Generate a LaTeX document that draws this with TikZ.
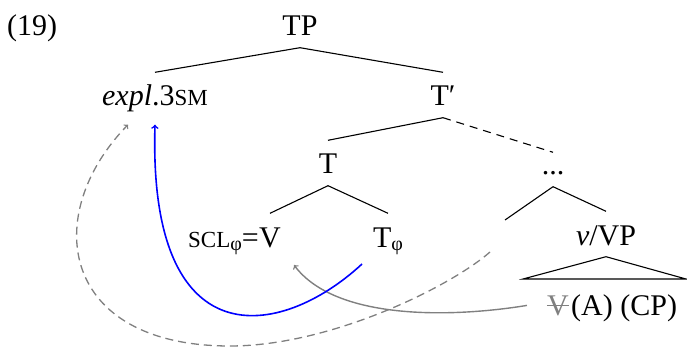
\documentclass[tikz,border=0pt]{standalone}
\usepackage{fontspec}
\setmainfont{Liberation Serif}
\usepackage{xcolor}
\usepackage{tikz}
\usetikzlibrary{arrows, positioning, calc}
\definecolor{moveblue}{RGB}{0, 0, 255}
\definecolor{movegray}{RGB}{128, 128, 128}
\newcommand{\smc}[1]{{\fontsize{23}{25}\selectfont #1}}
\newcommand{\phisub}{\raisebox{-4pt}{\fontsize{20}{22}\selectfont φ}}
\tikzset{
    cat/.style={anchor=base, font=\fontsize{30}{34}\selectfont, inner xsep=0pt, inner ysep=11.5pt, text height=22pt, text depth=0pt},
    branch/.style={line width=1.1pt},
    trace/.style={anchor=base, font=\fontsize{30}{34}\selectfont, inner sep=0pt, text=movegray},
    headmove/.style={->, >=to, line width=1.6pt, draw=moveblue},
    vmove/.style={->, >=to, line width=1.4pt, draw=movegray},
    expletmove/.style={->, >=to, line width=1.3pt, draw=movegray, dash pattern=on 8pt off 5pt}
}

\begin{document}
\begin{tikzpicture}[x=1pt, y=-1pt]
    \useasboundingbox (0,0) rectangle (687,347);

    \node (num) [cat] at (32,36) {(19)};
    \node (TP) [cat] at (300,36) {TP};
    \node (expl) [cat] at (155,106) {\textit{expl}.3\smc{SM}};
    \node (Tbar) [cat] at (443,106) {T′};
    \node (T) [cat] at (328,174) {T};
    \node (dots) [cat, text height=11pt] at (553,175) {...};
    \node (V) [cat] at (270,247) {V};
    \node (scl) [cat, anchor=base east] at (V.base west) {\smc{SCL}\phisub=};
    \node (Tphi) [cat] at (388,247) {T\phisub};
    \node (vVP) [cat] at (606,245) {\textit{v}/VP};
    \node (Vtr) [trace] at (558,315) {V};
    \node (rest) [cat, anchor=base west, xshift=2pt] at (Vtr.base east) {(A) (CP)};
    \coordinate (gap) at (505,220);
    \coordinate (tl) at (523,279);
    \coordinate (tr) at (686,279);

    % tree
    \draw [branch] (TP.south) -- (expl.north);
    \draw [branch] (TP.south) -- (Tbar.north);
    \draw [branch] (Tbar.south) -- (T.north);
    \draw [branch, dash pattern=on 8pt off 6pt] (Tbar.south) -- (dots.north);
    \draw [branch] (T.south) -- (V.north);
    \draw [branch] (T.south) -- (Tphi.north);
    \draw [branch] (dots.south) -- (gap);
    \draw [branch] (dots.south) -- (vVP.north);
    \draw [branch] (vVP.south) -- (tl) -- (tr) -- cycle;
    \draw [movegray, line width=1.2pt] (Vtr.west) -- (Vtr.east);

    % movement
    \coordinate (vsrc) at ([xshift=-20pt]Vtr.west);
    \coordinate (vland) at (294,265);
    \coordinate (phisrc) at (362,264);
    \coordinate (explland) at ([yshift=-7pt]expl.south);
    \coordinate (trace) at (490,252);
    \coordinate (loop) at (230,346);
    \coordinate (explgap) at ([xshift=-27pt, yshift=-7pt]expl.south);
    \draw [vmove] (vsrc) .. controls (450,318) and (335,320) .. (vland);
    \draw [headmove] (phisrc) .. controls (280,340) and (148,360) .. (explland);
    \draw [expletmove] (trace) .. controls (450,287) and (330,346) .. (loop)
        .. controls (60,346) and (40,215) .. (explgap);
\end{tikzpicture}
\end{document}
